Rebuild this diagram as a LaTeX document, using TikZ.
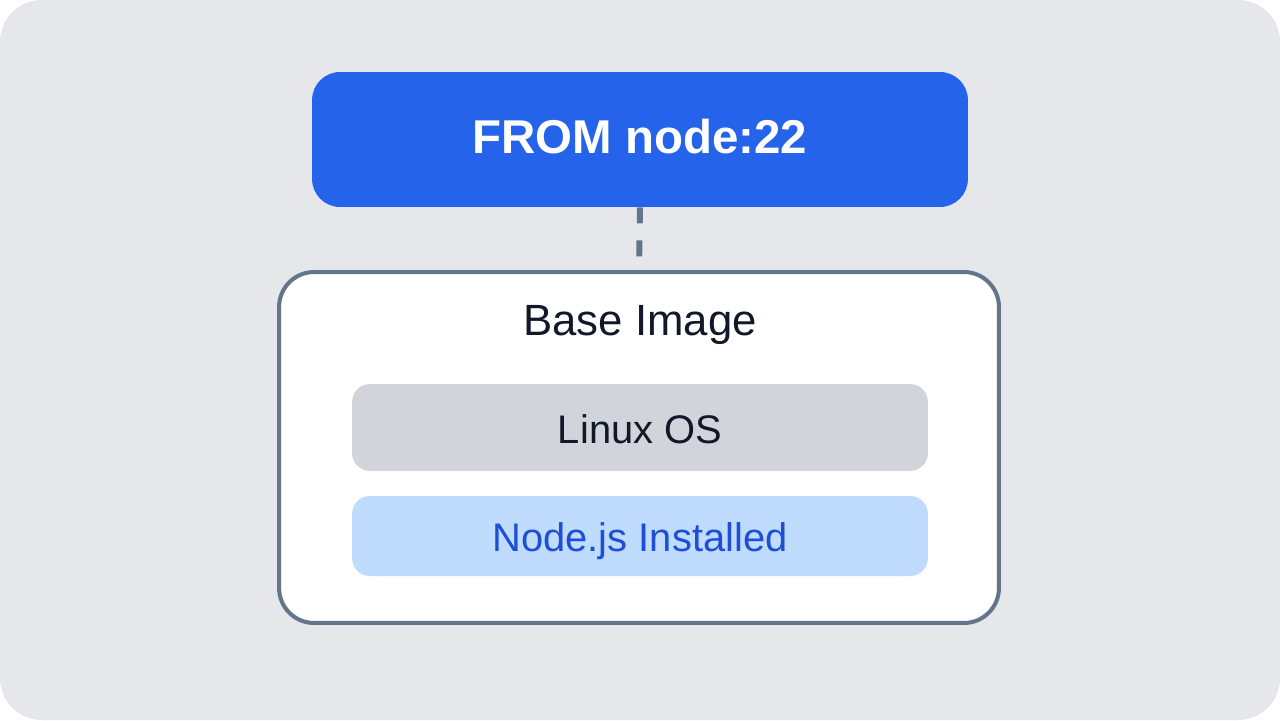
\documentclass[tikz,border=0pt]{standalone}
\usepackage{fontspec}
\setmainfont{Liberation Sans}
\usepackage{tikz}
\usetikzlibrary{positioning}

\definecolor{fondo}{HTML}{E5E7EB}
\definecolor{azul}{HTML}{2563EB}
\definecolor{pizarra}{HTML}{64748B}
\definecolor{gris}{HTML}{D1D5DB}
\definecolor{celeste}{HTML}{BFDBFE}
\definecolor{tinta}{HTML}{111827}
\definecolor{azultexto}{HTML}{1D4ED8}

\begin{document}
\begin{tikzpicture}[x=0.02cm,y=-0.02cm]
\tikzstyle{desde} = [fill=azul, rounded corners=0.56cm, minimum width=13.12cm, minimum height=2.7cm, text=white, font=\fontsize{27}{31}\selectfont\bfseries, text height=16.4pt, text depth=0pt]
\tikzstyle{imagen} = [draw=pizarra, line width=2.3pt, fill=white, rounded corners=0.7cm, minimum width=14.4cm, minimum height=7.02cm]
\tikzstyle{capa} = [rounded corners=0.36cm, minimum width=11.52cm, text height=18pt, text depth=0pt, font=\fontsize{22.7}{27}\selectfont]

\useasboundingbox (0,0) rectangle (1280,720);
\fill[white] (0,0) rectangle (1280,720);
\fill[fondo, rounded corners=0.84cm] (0,0) rectangle (1280,720);

\node[desde] (from) at (640,139.5) {FROM node:22};
\node[imagen] (base) at (639,447.5) {};
\node[anchor=base, text=tinta, font=\fontsize{24.9}{30}\selectfont] (titulo) at (640,335) {Base Image};
\node[capa, fill=gris, text=tinta, minimum height=1.74cm] (linux) at (640,427.5) {Linux OS};
\node[capa, fill=celeste, text=azultexto, minimum height=1.6cm] (nodejs) at (640,536) {Node.js Installed};

\draw[pizarra, line width=3.4pt, dash pattern=on 0.32cm off 0.34cm] (from.south) -- (base.north);
\end{tikzpicture}
\end{document}
